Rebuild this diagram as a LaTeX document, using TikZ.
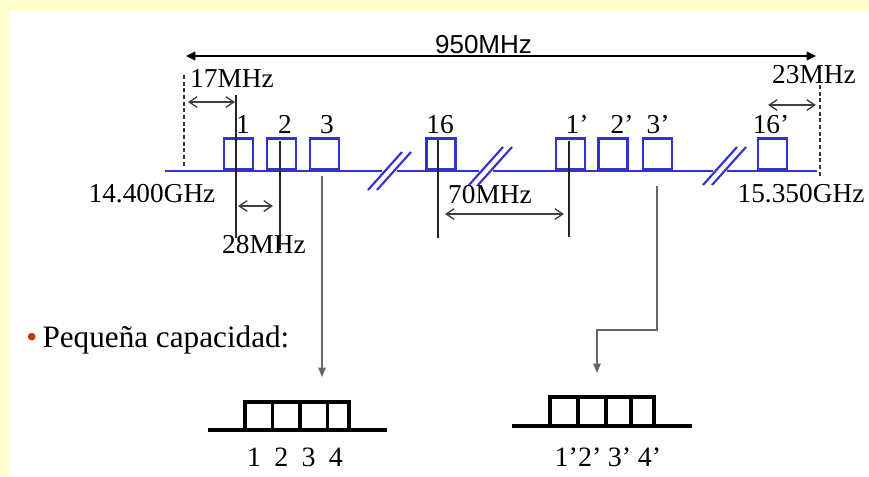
\documentclass[tikz,border=0pt]{standalone}
\usepackage{fontspec}
\setmainfont{Liberation Serif}
\newfontfamily\spanfont{Liberation Sans}
\usetikzlibrary{arrows.meta}
\definecolor{chanblue}{RGB}{51,51,204}
\definecolor{slideyellow}{RGB}{255,255,204}
\definecolor{bulletred}{RGB}{204,51,0}
\begin{document}
\begin{tikzpicture}[x=0.75pt, y=-0.75pt,
  chan/.style={draw=chanblue, line width=2.2pt, anchor=south, inner sep=0pt, minimum width=29*0.75pt, minimum height=31*0.75pt},
  chlabel/.style={anchor=base, inner sep=0pt, font=\fontsize{20.5pt}{20.5pt}\selectfont},
  freq/.style={anchor=base, inner sep=0pt, font=\fontsize{20.5pt}{20.5pt}\selectfont},
  mhz/.style={anchor=base, inner sep=0pt, font=\fontsize{20.5pt}{20.5pt}\selectfont},
  grplabel/.style={anchor=base, inner sep=0pt, font=\fontsize{21pt}{21pt}\selectfont},
  axisline/.style={chanblue, line width=2.2pt},
  slash/.style={chanblue, line width=1.6pt},
  fence/.style={black!80, line width=1pt, dash pattern=on 3pt off 2pt},
  tickline/.style={black!85, line width=1pt},
  dimarrow/.style={black!75, line width=1pt, <->, >={Straight Barb[length=6pt,width=8pt]}},
  feed/.style={black!60, line width=1pt, -{Triangle[length=7pt,width=5.5pt]}},
  grp/.style={black, line width=2.6pt}]
% slide background
\fill[slideyellow] (0,0) rectangle (869,476);
\fill[white] (9,11) rectangle (869,476);
\useasboundingbox (0,0) rectangle (869,476);

% whole band
\coordinate (spanL) at (186,56);
\coordinate (spanR) at (816,56);
\draw[black, line width=1.2pt, arrows={Triangle[length=7pt,width=6.5pt]-Triangle[length=7pt,width=6.5pt]}] (spanL) -- (spanR);
\node[anchor=base, inner sep=0pt, font=\spanfont\fontsize{19.5pt}{19.5pt}\selectfont] (span) at (483.5,53) {950MHz};

% frequency axis with breaks
\foreach \a/\b in {165/382, 397/479, 493/713, 727/817}
  \draw[axisline] (\a,171) -- (\b,171);
\foreach \c/\m in {389.5/171, 490.5/166, 724.5/166} {
  \draw[slash] (\c-21.5,\m+19) -- ++(34,-38);
  \draw[slash] (\c-12.5,\m+19) -- ++(34,-38);
}
\coordinate (fenceL) at (184,75);
\coordinate (fenceLb) at (184,168);
\coordinate (fenceR) at (820,85);
\coordinate (fenceRb) at (820,178);
\draw[fence] (fenceL) -- (fenceLb);
\draw[fence] (fenceR) -- (fenceRb);
\node[freq] (fmin) at (152,202) {14.400GHz};
\node[freq] (fmax) at (801,202) {15.350GHz};

% channels
\foreach \nm/\cx/\lx/\txt in {c1/238.5/243/1, c2/281.5/285/2, c3/324.5/327/3, c16/441/440/16,
                              d1/570.5/577/1’, d2/613/622/2’, d3/657.5/658/3’, d16/772.5/771/16’} {
  \node[chan] (\nm) at (\cx,171) {};
  \node[chlabel] (\nm l) at (\lx,133) {\txt};
}

% spacings
\foreach \nm/\x/\ya/\yb in {k1/236/95/238, k2/280/141/250, k16/438/140/238, k1p/569/141/237} {
  \coordinate (\nm a) at (\x,\ya);
  \coordinate (\nm b) at (\x,\yb);
  \draw[tickline] (\nm a) -- (\nm b);
}
\foreach \nm/\xa/\xb/\y in {g17/188/235/102, g23/768/816/105, g28/238/273/206, g70/445/564/214} {
  \coordinate (\nm a) at (\xa,\y);
  \coordinate (\nm b) at (\xb,\y);
  \draw[dimarrow] (\nm a) -- (\nm b);
}
\node[mhz] (m17) at (232,87) {17MHz};
\node[mhz] (m23) at (814,83) {23MHz};
\node[mhz] (m28) at (264,253) {28MHz};
\node[mhz] (m70) at (490,203) {70MHz};

% small capacity
\node[anchor=base west, inner sep=0pt, font=\fontsize{23.4pt}{23.4pt}\selectfont] (cap) at (26,347)
  {\textcolor{bulletred}{•}\hspace{4pt}Pequeña capacidad:};
\coordinate (out3) at (322,176);
\coordinate (inA) at (322,377);
\coordinate (out3p) at (657,186);
\coordinate (bendB) at (597,330);
\coordinate (inB) at (597,373);
\draw[feed] (out3) -- (inA);
\draw[feed] (out3p) |- (bendB) -- (inB);

\draw[grp] (208,430) -- (387,430);
\foreach \a/\b in {245/272.5, 272.5/300, 300/327.5, 327.5/349}
  \draw[grp] (\a,430) -- (\a,402) -- (\b,402) -- (\b,430);
\node[grplabel] (grpAl) at (295,466) {\spaceskip=10pt 1 2 3 4};

\draw[grp] (512,426) -- (692,426);
\foreach \a/\b in {550/578, 578/606, 606/631, 631/654}
  \draw[grp] (\a,426) -- (\a,397) -- (\b,397) -- (\b,426);
\node[grplabel] (grpBl) at (608,466) {\spaceskip=5pt 1’2’ 3’ 4’};
\end{tikzpicture}
\end{document}
